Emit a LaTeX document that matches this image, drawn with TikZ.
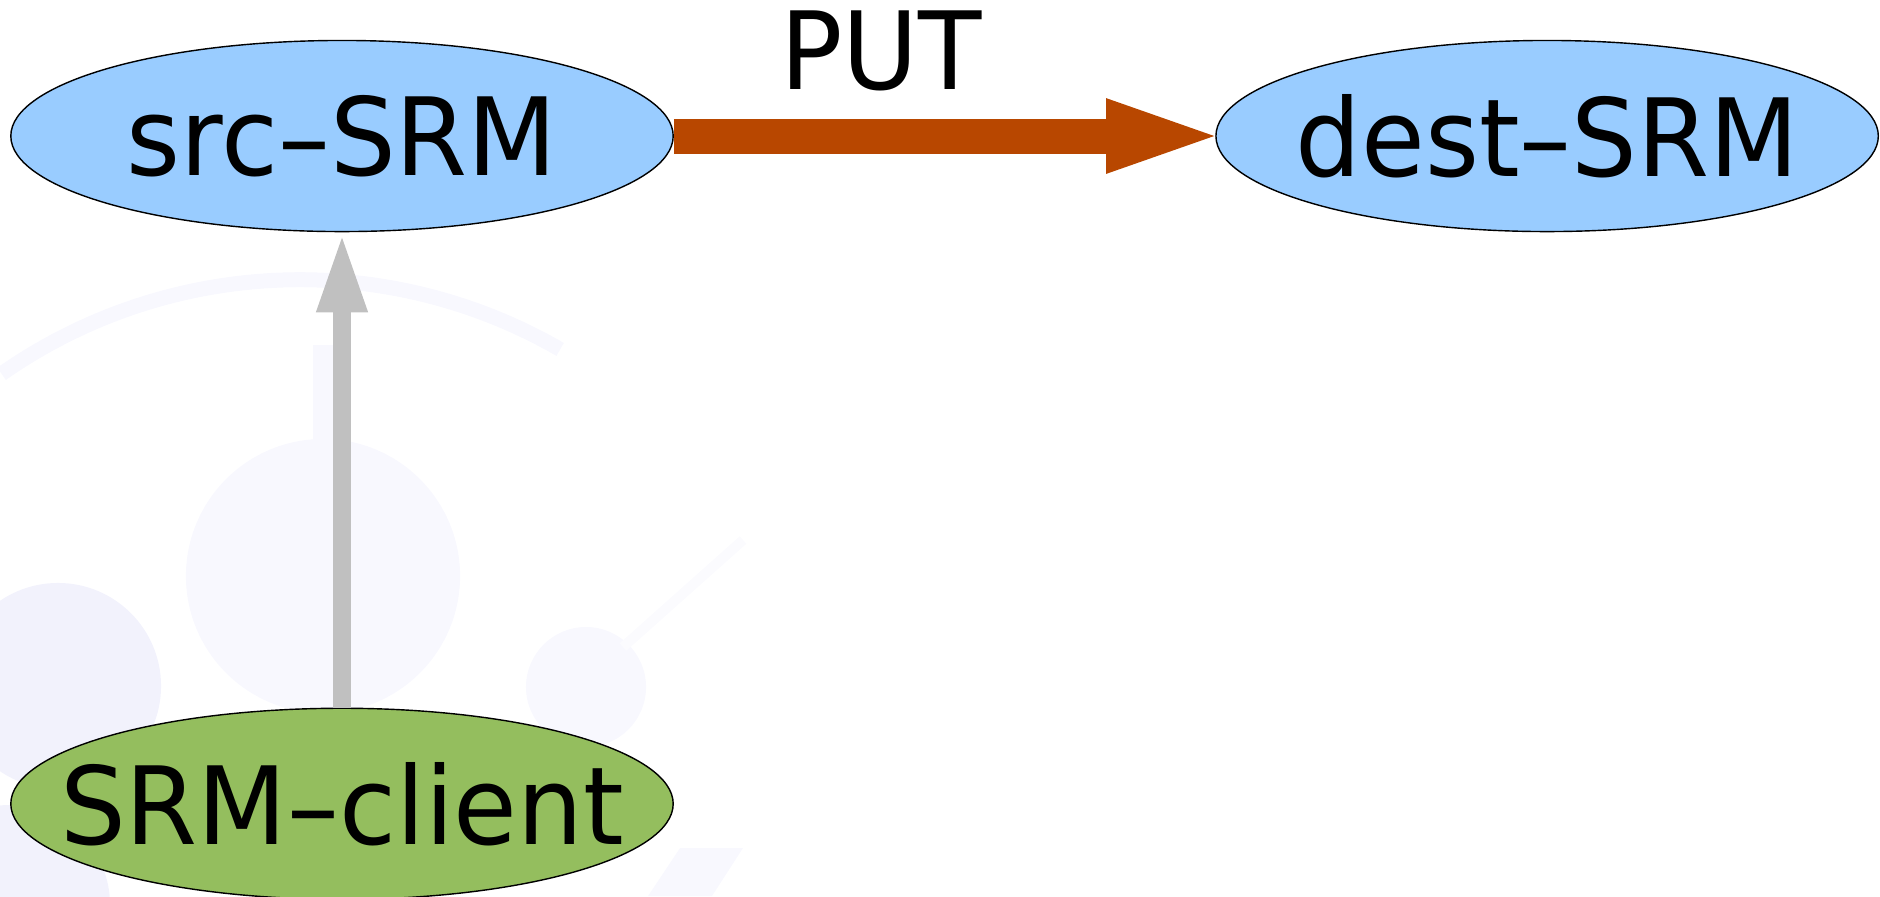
\documentclass[tikz,border=0pt]{standalone}
\usepackage{fontspec}
\newfontfamily\srmfont{DejaVu Sans}[FakeStretch=0.96]
\usepackage{tikz}
\usetikzlibrary{shapes, arrows.meta, positioning}

\definecolor{srcblue}{RGB}{153,204,255}
\definecolor{clientgreen}{RGB}{148,190,94}
\definecolor{putbrown}{RGB}{184,71,0}
\definecolor{reqgrey}{RGB}{192,192,192}
\definecolor{wmark}{RGB}{242,242,252}
\definecolor{wmarklight}{RGB}{248,248,254}

\begin{document}
\begin{tikzpicture}[
        x=0.01cm, y=-0.01cm,
        srmbox/.style={
            ellipse, draw=black, line width=0.4pt, inner sep=0pt,
            minimum width=6.62cm, minimum height=1.91cm
        },
        every label/.style={font=\srmfont\fontsize{30.7}{36}\selectfont, inner sep=0pt},
        putarrow/.style={-{Triangle[length=1.22cm, width=0.64cm]}, line width=0.35cm, color=putbrown, shorten >=-0.13cm},
        reqarrow/.style={-{Triangle[length=0.8cm, width=0.46cm]}, line width=0.18cm, color=reqgrey}
    ]
        \useasboundingbox (0,0) rectangle (1880,896);

        % Faint logo in the background
        \fill[wmarklight] (323,576) circle (1.37cm);
        \fill[wmark] (58,686) circle (1.03cm);
        \fill[wmarklight] (586,687) circle (0.6cm);
        \fill[wmark] (10,905) circle (1.0cm);
        \fill[wmarklight] (313,345) rectangle (342,441);
        \draw[wmarklight, line width=0.15cm] (300,800) ++(125:5.2cm) arc[start angle=125, end angle=60, radius=5.2cm];
        \draw[wmarklight!60!white, line width=0.1cm] (623,647) -- (743,540);
        \fill[wmarklight] (648,896) -- (680,848) -- (743,848) -- (712,896) -- cycle;

        % SRM nodes
        \node[srmbox, fill=srcblue, label={center:src–SRM}] (src) at (342,136) {};
        \node[srmbox, fill=srcblue, label={center:dest–SRM}] (dest) [right=5.41cm of src] {};
        \node[srmbox, fill=clientgreen, label={center:SRM–client}] (client) [below=4.75cm of src] {};

        % Connectors
        \draw[putarrow] (src) -- node[pos=0.383, yshift=0.85cm, text=black, font=\srmfont\fontsize{30.7}{36}\selectfont] (put) {PUT} (dest);
        \draw[reqarrow] (client) -- (src);

    \end{tikzpicture}
\end{document}
